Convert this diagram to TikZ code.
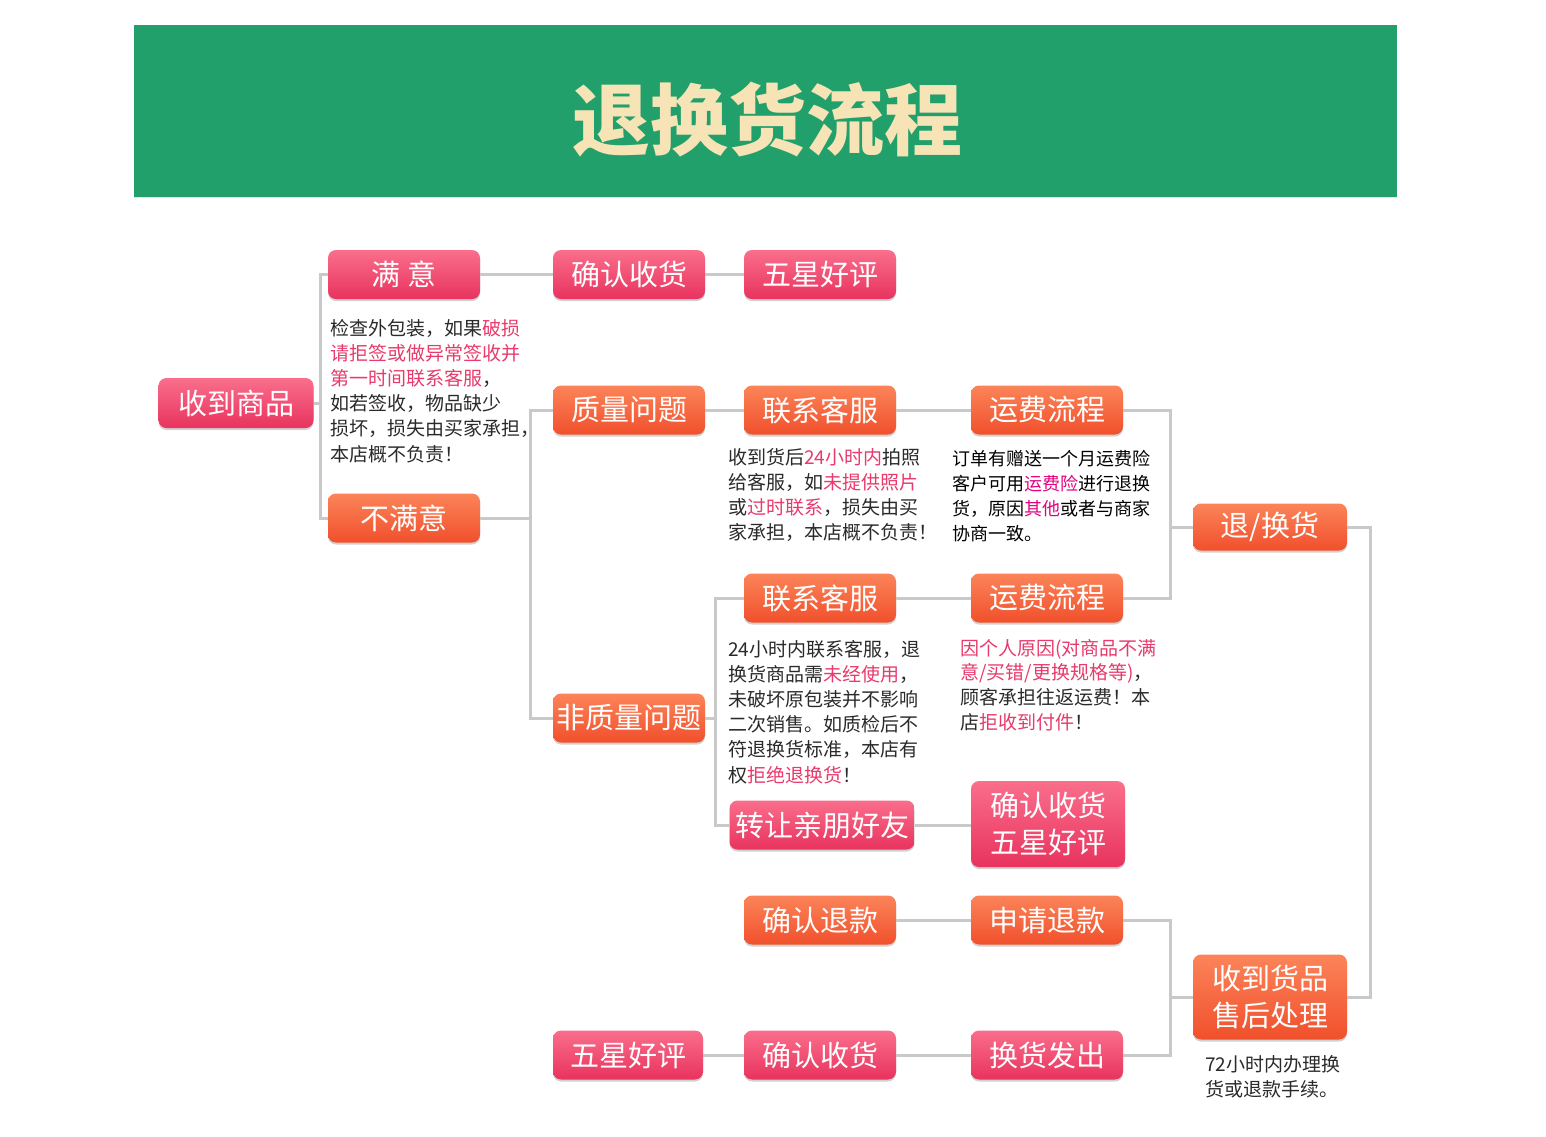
\documentclass[tikz,border=0pt]{standalone}
\usepackage{fontspec}
\setmainfont{Noto Sans CJK SC}
\usetikzlibrary{shadows}
\definecolor{gbg}{HTML}{22A06C}
\definecolor{titlec}{HTML}{F6E3B6}
\definecolor{pkT}{HTML}{FA6E8C}
\definecolor{pkB}{HTML}{E8335E}
\definecolor{orT}{HTML}{FC8459}
\definecolor{orB}{HTML}{F0502C}
\definecolor{lineg}{HTML}{C9C9C9}
\definecolor{redt}{HTML}{E83A6C}
\definecolor{magt}{HTML}{E4007F}
\definecolor{blkt}{HTML}{2A2A2A}
\newcommand{\rtxt}[1]{\textcolor{redt}{#1}}
\newcommand{\mtxt}[1]{\textcolor{magt}{#1}}
\begin{document}
\begin{tikzpicture}[x=1pt,y=-1pt,
  boxbase/.style={rounded corners=8pt, text=white, inner sep=0pt,
    minimum width=152pt, minimum height=49pt,
    font=\fontsize{29}{37}\selectfont, align=center,
    drop shadow={shadow xshift=0pt, shadow yshift=-2pt, opacity=0.18, fill=black}},
  pinkbox/.style={boxbase, top color=pkT, bottom color=pkB},
  orbox/.style={boxbase, top color=orT, bottom color=orB},
  conn/.style={draw=lineg, line width=3pt},
  txt/.style={inner sep=0pt, text=blkt, anchor=base west, font=\fontsize{19}{25.2}\selectfont},
  txtc/.style={inner sep=0pt, text=black, anchor=base west, font=\fontsize{18}{25.3}\selectfont}
]
\useasboundingbox (0,0) rectangle (1546,1136);
\fill[white] (0,0) rectangle (1546,1136);

% title band
\node[fill=gbg, minimum width=1263pt, minimum height=172pt, inner sep=0pt,
  drop shadow={shadow xshift=0pt, shadow yshift=-1pt, opacity=0.10, fill=black}] (band) at (765.5,111) {};
\node[text=titlec, font=\fontsize{78}{80}\selectfont\bfseries] (title) at (767,120) {退换货流程};

% boxes
\node[pinkbox] (man) at (404,274.5) {满 意};
\node[pinkbox] (qr1) at (629,274.5) {确认收货};
\node[pinkbox] (wx1) at (820,274.5) {五星好评};
\node[pinkbox, minimum width=155pt, minimum height=50pt] (recv) at (236,403) {收到商品};
\node[orbox] (zl) at (629,410) {质量问题};
\node[orbox] (kf1) at (820,410) {联系客服};
\node[orbox] (yf1) at (1047,410) {运费流程};
\node[orbox] (buman) at (404,518) {不满意};
\node[orbox, minimum width=154pt, minimum height=47pt] (th) at (1270,527) {退/换货};
\node[orbox] (kf2) at (820,598) {联系客服};
\node[orbox] (yf2) at (1047,598) {运费流程};
\node[orbox] (fzl) at (629,718) {非质量问题};
\node[pinkbox, minimum width=185pt] (zr) at (822,825) {转让亲朋好友};
\node[pinkbox, minimum width=154pt, minimum height=86pt] (qw) at (1048,824) {确认收货\\五星好评};
\node[orbox] (qt) at (820,920) {确认退款};
\node[orbox] (sq) at (1047,920) {申请退款};
\node[orbox, minimum width=154pt, minimum height=85pt] (sh) at (1270,997) {收到货品\\售后处理};
\node[pinkbox, minimum width=150pt] (wx3) at (628,1055) {五星好评};
\node[pinkbox] (qr3) at (820,1055) {确认收货};
\node[pinkbox] (hf) at (1047,1055) {换货发出};

% junction coordinates
\coordinate (jA) at (320,403);
\coordinate (jB) at (530,518);
\coordinate (jC) at (1170,527);
\coordinate (jD) at (715,718);
\coordinate (jE) at (1370,527);
\coordinate (jF) at (1170,997);

% connectors
\draw[conn] (recv.east) -- (jA);
\draw[conn] (man.west) -| (jA) |- (buman.west);
\draw[conn] (man.east) -- (qr1.west);
\draw[conn] (qr1.east) -- (wx1.west);
\draw[conn] (buman.east) -- (jB);
\draw[conn] (zl.west) -| (jB) |- (fzl.west);
\draw[conn] (zl.east) -- (kf1.west);
\draw[conn] (kf1.east) -- (yf1.west);
\draw[conn] (yf1.east) -| (jC) |- (yf2.east);
\draw[conn] (th.west) -- (jC);
\draw[conn] (fzl.east) -- (jD);
\draw[conn] (kf2.west) -| (jD) |- (zr.west);
\draw[conn] (kf2.east) -- (yf2.west);
\draw[conn] (zr.east) -- (zr.east -| qw.west);
\draw[conn] (th.east) -- (jE) |- (sh.east);
\draw[conn] (sh.west) -- (jF);
\draw[conn] (sq.east) -| (jF) |- (hf.east);
\draw[conn] (qt.east) -- (sq.west);
\draw[conn] (hf.west) -- (qr3.east);
\draw[conn] (qr3.west) -- (wx3.east);

% text blocks
\node[txt] (tA) at (330,335) {\begin{tabular}[t]{@{}l@{}}
检查外包装，如果\rtxt{破损}\\
\rtxt{请拒签或做异常签收并}\\
\rtxt{第一时间联系客服}，\\
如若签收，物品缺少\\
损坏，损失由买家承担，\\
本店概不负责！
\end{tabular}};

\node[txt] (tB) at (728,464) {\begin{tabular}[t]{@{}l@{}}
收到货后\rtxt{24小时内}拍照\\
给客服，如\rtxt{未提供照片}\\
或\rtxt{过时联系}，损失由买\\
家承担，本店概不负责！
\end{tabular}};

\node[txtc] (tC) at (952,465) {\begin{tabular}[t]{@{}l@{}}
订单有赠送一个月运费险\\
客户可用\mtxt{运费险}进行退换\\
货，原因\mtxt{其他}或者与商家\\
协商一致。
\end{tabular}};

\node[txt] (tD) at (728,656) {\begin{tabular}[t]{@{}l@{}}
24小时内联系客服，退\\
换货商品需\rtxt{未经使用}，\\
未破坏原包装并不影响\\
二次销售。如质检后不\\
符退换货标准，本店有\\
权\rtxt{拒绝退换货}！
\end{tabular}};

\node[txt, font=\fontsize{19}{24.8}\selectfont] (tE) at (960,655) {\begin{tabular}[t]{@{}l@{}}
\rtxt{因个人原因(对商品不满}\\
\rtxt{意/买错/更换规格等)}，\\
顾客承担往返运费！本\\
店\rtxt{拒收到付件}！
\end{tabular}};

\node[txt, font=\fontsize{19}{25}\selectfont] (tF) at (1205,1071) {\begin{tabular}[t]{@{}l@{}}
72小时内办理换\\
货或退款手续。
\end{tabular}};
\end{tikzpicture}
\end{document}
